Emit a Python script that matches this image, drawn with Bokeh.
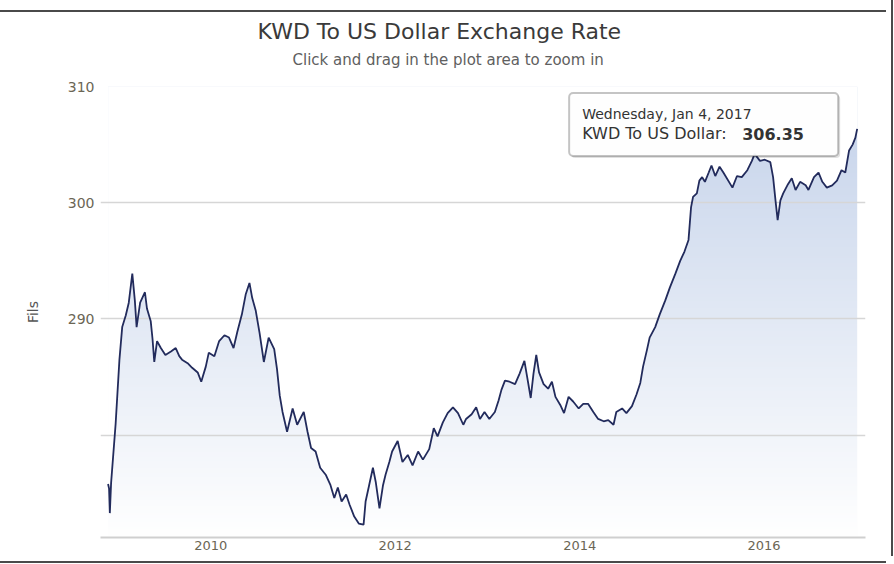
import numpy as np
import pandas as pd
from bokeh.plotting import figure
from bokeh.models import FixedTicker, Range1d, Label, BoxAnnotation, DatetimeTickFormatter, Title
from bokeh.embed import file_html
from bokeh.resources import INLINE

title_text = "KWD To US Dollar Exchange Rate"
subtitle_text = "Click and drag in the plot area to zoom in"
y_axis_title = "Fils"
tooltip_date = "Wednesday, Jan 4, 2017"
tooltip_series = "KWD To US Dollar: "
tooltip_value = "306.35"

dates = [
    "2008-11-20", "2008-11-24", "2008-11-27", "2008-12-02", "2008-12-20", "2009-01-04",
    "2009-01-15", "2009-01-29", "2009-02-10", "2009-02-24", "2009-03-06", "2009-03-13",
    "2009-03-27", "2009-04-15", "2009-04-23", "2009-05-08", "2009-05-15", "2009-05-22",
    "2009-06-02", "2009-06-17", "2009-07-05", "2009-07-27", "2009-08-15", "2009-08-29",
    "2009-09-09", "2009-10-01", "2009-10-19", "2009-11-10", "2009-11-24", "2009-12-12",
    "2009-12-24", "2010-01-15", "2010-02-03", "2010-02-24", "2010-03-14", "2010-04-01",
    "2010-04-16", "2010-05-04", "2010-05-19", "2010-06-03", "2010-06-14", "2010-06-28",
    "2010-07-13", "2010-07-30", "2010-08-18", "2010-09-09", "2010-09-20", "2010-10-01",
    "2010-10-12", "2010-10-30", "2010-11-21", "2010-12-09", "2011-01-04", "2011-01-19",
    "2011-02-02", "2011-02-20", "2011-03-10", "2011-04-01", "2011-04-20", "2011-05-05",
    "2011-05-19", "2011-06-03", "2011-06-21", "2011-07-05", "2011-07-23", "2011-08-10",
    "2011-08-29", "2011-09-06", "2011-09-20", "2011-10-05", "2011-10-16", "2011-10-31",
    "2011-11-14", "2011-11-24", "2011-12-09", "2011-12-20", "2012-01-11", "2012-01-30",
    "2012-02-20", "2012-03-10", "2012-04-01", "2012-04-20", "2012-05-15", "2012-06-02",
    "2012-06-17", "2012-07-08", "2012-07-27", "2012-08-17", "2012-09-06", "2012-09-27",
    "2012-10-08", "2012-10-30", "2012-11-17", "2012-12-02", "2012-12-20", "2013-01-08",
    "2013-01-30", "2013-02-14", "2013-02-25", "2013-03-11", "2013-03-29", "2013-04-20",
    "2013-05-08", "2013-05-27", "2013-06-07", "2013-06-21", "2013-07-02", "2013-07-13",
    "2013-07-24", "2013-08-11", "2013-08-29", "2013-09-13", "2013-09-27", "2013-10-16",
    "2013-10-31", "2013-11-18", "2013-12-06", "2013-12-28", "2014-01-15", "2014-02-03",
    "2014-02-24", "2014-03-15", "2014-04-06", "2014-04-24", "2014-05-15", "2014-05-26",
    "2014-06-18", "2014-07-05", "2014-07-27", "2014-08-14", "2014-08-29", "2014-09-09",
    "2014-09-24", "2014-10-05", "2014-10-27", "2014-11-14", "2014-12-06", "2014-12-24",
    "2015-01-15", "2015-02-03", "2015-02-20", "2015-03-08", "2015-03-18", "2015-03-26",
    "2015-04-10", "2015-04-20", "2015-05-01", "2015-05-12", "2015-05-27", "2015-06-07",
    "2015-06-22", "2015-07-09", "2015-07-24", "2015-08-29", "2015-09-16", "2015-10-05",
    "2015-10-27", "2015-11-14", "2015-11-25", "2015-12-16", "2016-01-04", "2016-01-26",
    "2016-02-06", "2016-02-17", "2016-02-24", "2016-03-06", "2016-03-17", "2016-04-05",
    "2016-04-20", "2016-05-05", "2016-05-23", "2016-06-14", "2016-06-25", "2016-07-17",
    "2016-08-04", "2016-08-19", "2016-09-06", "2016-09-27", "2016-10-16", "2016-11-03",
    "2016-11-18", "2016-12-03", "2016-12-17", "2016-12-28", "2017-01-04",
]
rates = [
    275.8, 275.4, 273.3, 275.9, 281.0, 286.5,
    289.3, 290.3, 291.4, 293.9, 291.6, 289.3,
    291.4, 292.3, 290.9, 289.8, 288.3, 286.3,
    288.1, 287.5, 286.9, 287.2, 287.5, 286.8,
    286.5, 286.2, 285.8, 285.4, 284.6, 285.9,
    287.1, 286.8, 288.1, 288.6, 288.4, 287.5,
    288.9, 290.4, 292.1, 293.1, 291.8, 290.7,
    288.8, 286.3, 288.4, 287.4, 285.7, 283.4,
    282.0, 280.3, 282.3, 280.9, 282.0, 280.3,
    278.9, 278.6, 277.2, 276.6, 275.7, 274.6,
    275.5, 274.3, 274.9, 274.0, 273.0, 272.4,
    272.3, 274.3, 275.7, 277.2, 276.0, 273.7,
    275.7, 276.6, 277.7, 278.6, 279.5, 277.7,
    278.3, 277.4, 278.6, 277.9, 278.8, 280.6,
    279.9, 281.1, 281.9, 282.4, 281.9, 280.9,
    281.4, 281.8, 282.4, 281.4, 282.0, 281.4,
    282.0, 283.0, 283.9, 284.7, 284.6, 284.4,
    285.3, 286.4, 285.0, 283.2, 285.3, 286.9,
    285.4, 284.4, 284.0, 284.6, 283.3, 282.6,
    281.9, 283.3, 282.9, 282.3, 282.7, 282.7,
    282.0, 281.4, 281.2, 281.3, 280.9, 282.0,
    282.3, 281.9, 282.5, 283.5, 284.5, 285.9,
    287.3, 288.4, 289.3, 290.4, 291.6, 292.7,
    293.9, 295.0, 295.8, 296.8, 299.6, 300.5,
    300.8, 301.9, 302.2, 301.8, 302.6, 303.2,
    302.3, 303.1, 302.6, 301.3, 302.3, 302.2,
    302.8, 303.6, 304.2, 303.6, 303.7, 303.5,
    302.2, 299.9, 298.5, 300.2, 300.8, 301.6,
    302.1, 301.1, 301.8, 301.5, 301.1, 302.2,
    302.6, 301.8, 301.3, 301.5, 301.9, 302.8,
    302.6, 304.5, 305.0, 305.6, 306.35,
]
tick_years = ["2010", "2012", "2014", "2016"]
y_ticks = [280, 290, 300, 310]
y_tick_labels = ["", "290", "300", "310"]

EPOCH = pd.Timestamp("1970-01-01")
MS = pd.Timedelta(milliseconds=1)


def to_ms(seq):
    return np.asarray([(pd.Timestamp(s) - EPOCH) / MS for s in seq], dtype=float)


xm = to_ms(dates)
ym = np.asarray(rates, dtype=float)
x_start, x_end = to_ms(["2008-10-21", "2017-02-06"])
y_start, y_end = 271.2, 310.0

W, H = 886, 556
ML, MR, MT, MB = 100, 21, 86, 19
frame_w = W - ML - MR
frame_h = H - MT - MB
mspp = (x_end - x_start) / frame_w      # ms per pixel
upp = (y_end - y_start) / frame_h       # value units per pixel

p = figure(width=W, height=H, x_axis_type="datetime",
           x_range=Range1d(x_start, x_end), y_range=Range1d(y_start, y_end),
           output_backend="svg", toolbar_location=None,
           min_border_left=ML, min_border_right=MR, min_border_top=MT, min_border_bottom=MB,
           background_fill_color="white", border_fill_color=None,
           outline_line_color=None)
EDGE = "#4a4a4a"
p.styles = {"box-shadow": (f"inset 0 10px 0 0 #ffffff, inset 0 12px 0 0 {EDGE}, "
                           f"5px 0 0 0 #ffffff, 7px 0 0 0 {EDGE}, "
                           f"0 5px 0 0 #ffffff, 0 7px 0 0 {EDGE}")}

FONT = "DejaVu Sans"
LABEL_COLOR = "#6b6655"

# titles: spacer nearest the plot, then sub-title, then title
p.add_layout(Title(text=" ", text_font_size="6px", standoff=10), "above")
p.add_layout(Title(text=subtitle_text, align="left", offset=192, standoff=0,
                   text_font=FONT, text_font_size="15px", text_font_style="normal",
                   text_color="#606060"), "above")
p.add_layout(Title(text=title_text, align="left", offset=157, standoff=10,
                   text_font=FONT, text_font_size="22px", text_font_style="normal",
                   text_color="#3a3a3a"), "above")

# x axis
p.xaxis.ticker = FixedTicker(ticks=list(to_ms([y + "-01-01" for y in tick_years])))
p.xaxis.formatter = DatetimeTickFormatter(years="%Y", months="%Y", days="%Y")
p.xaxis.axis_line_color = "#cfcfcf"
p.xaxis.axis_line_width = 2
p.xaxis.major_tick_line_color = None
p.xaxis.minor_tick_line_color = None
p.xaxis.major_tick_out = 0
p.xaxis.major_tick_in = 0
p.xaxis.major_label_text_font = FONT
p.xaxis.major_label_text_font_size = "13px"
p.xaxis.major_label_text_color = LABEL_COLOR
p.xaxis.major_label_standoff = 3

# y axis
p.yaxis.ticker = FixedTicker(ticks=y_ticks)
p.yaxis.major_label_overrides = {t: lab for t, lab in zip(y_ticks, y_tick_labels)}
p.yaxis.axis_line_color = None
p.yaxis.major_tick_line_color = None
p.yaxis.minor_tick_line_color = None
p.yaxis.major_tick_out = 0
p.yaxis.major_tick_in = 0
p.yaxis.major_label_text_font = FONT
p.yaxis.major_label_text_font_size = "14px"
p.yaxis.major_label_text_color = LABEL_COLOR
p.yaxis.major_label_standoff = 6
p.yaxis.axis_label = y_axis_title
p.yaxis.axis_label_text_font = FONT
p.yaxis.axis_label_text_font_size = "14px"
p.yaxis.axis_label_text_font_style = "normal"
p.yaxis.axis_label_text_color = "#555555"
p.yaxis.axis_label_standoff = 24

p.xgrid.grid_line_color = None
p.ygrid.grid_line_color = "#d6d6d6"
p.ygrid.grid_line_width = 1.5

# gradient fill under the line: gradient image masked above the line
N = 200
img = np.empty((N, 1), dtype=np.uint32)
view = img.view(dtype=np.uint8).reshape((N, 1, 4))
top_rgb = np.array([196, 210, 234], dtype=float)
for i in range(N):
    f = i / (N - 1)
    c = 255 * (1 - f) + top_rgb * f
    view[i, 0, 0:3] = c.astype(np.uint8)
    view[i, 0, 3] = 255
p.image_rgba(image=[img], x=xm[0], y=y_start, dw=xm[-1] - xm[0], dh=y_end - y_start,
             level="image")
p.varea(x=xm, y1=ym, y2=np.full(len(ym), y_end + 1), fill_color="white", level="image")

p.line(xm, ym, line_color="#222b5c", line_width=1.8)

# tooltip for last point
lx, ly = xm[-1], ym[-1]
b_left = lx - 288 * mspp
b_right = lx - 19 * mspp
b_top = ly + 36 * upp
b_bottom = ly - 27 * upp
p.add_layout(BoxAnnotation(left=b_left + 2 * mspp, right=b_right + 2 * mspp,
                           top=b_top - 2 * upp, bottom=b_bottom - 2 * upp,
                           fill_color="black", fill_alpha=0.12, line_color=None,
                           border_radius=4, level="overlay"))
p.add_layout(BoxAnnotation(left=b_left, right=b_right, top=b_top, bottom=b_bottom,
                           fill_color="white", fill_alpha=0.95, line_color="#3c3c3c",
                           line_width=2, border_radius=4, level="overlay"))
p.add_layout(Label(x=b_left, x_offset=13, y=ly + 15 * upp, text=tooltip_date,
                   text_baseline="middle", text_font=FONT, text_font_size="14px",
                   text_color="#333333", level="overlay"))
p.add_layout(Label(x=b_left, x_offset=13, y=ly - 5 * upp, text=tooltip_series,
                   text_baseline="middle", text_font=FONT, text_font_size="16px",
                   text_color="#333333", level="overlay"))
p.add_layout(Label(x=b_left, x_offset=13 + 160, y=ly - 5 * upp, text=tooltip_value,
                   text_baseline="middle", text_font=FONT, text_font_size="16px",
                   text_font_style="bold", text_color="#333333", level="overlay"))

open("out.html", "w").write(file_html(p, INLINE))
